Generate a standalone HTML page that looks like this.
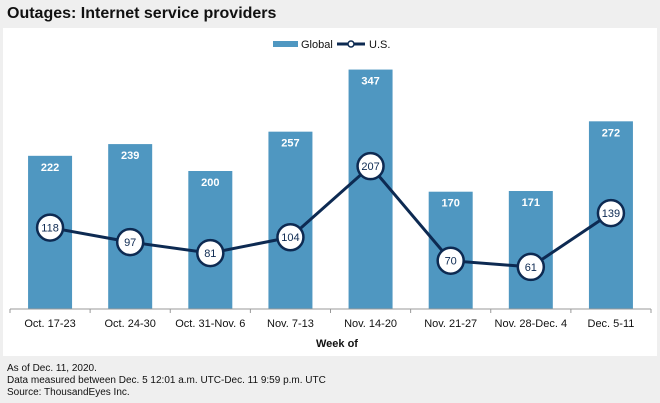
<!DOCTYPE html>
<html><head><meta charset="utf-8"><style>
body{margin:0;width:660px;height:403px;background:#efefef;font-family:"Liberation Sans",sans-serif;overflow:hidden;position:relative}
#title{position:absolute;left:7px;top:5px;font-size:16px;font-weight:bold;color:#111}
#panel{position:absolute;left:3px;top:28px;width:654px;height:328px;background:#fff}
.note{position:absolute;left:7px;font-size:10px;color:#111}
</style></head><body>
<div id="title">Outages: Internet service providers</div>
<div id="panel"></div>
<svg id="chart" width="660" height="403" style="position:absolute;left:0;top:0"></svg>
<div class="note" style="top:363px">As of Dec. 11, 2020.</div>
<div class="note" style="top:375px">Data measured between Dec. 5 12:01 a.m. UTC-Dec. 11 9:59 p.m. UTC</div>
<div class="note" style="top:387px">Source: ThousandEyes Inc.</div>
<script>
const categories=["Oct. 17-23","Oct. 24-30","Oct. 31-Nov. 6","Nov. 7-13","Nov. 14-20","Nov. 21-27","Nov. 28-Dec. 4","Dec. 5-11"];
const globalValues=[222,239,200,257,347,170,171,272];
const usValues=[118,97,81,104,207,70,61,139];
const NS="http://www.w3.org/2000/svg";
const svg=document.getElementById('chart');
const x0=10,x1=651,y0=309,k=0.69;
const bw=(x1-x0)/categories.length;
const xc=i=>x0+bw*(i+0.5);
const y=v=>y0-v*k;
function el(t,a){const e=document.createElementNS(NS,t);for(const n in a)e.setAttribute(n,a[n]);svg.appendChild(e);return e;}
globalValues.forEach((v,i)=>{
 const r=el('rect',{x:xc(i)-22,y:y(v),width:44,height:y0-y(v),fill:'#4f97c1'});
 
 
 const t=el('text',{x:xc(i),y:y(v)+15,'text-anchor':'middle','font-size':'11','font-weight':'bold',fill:'#fff'});
 t.textContent=v;
 
 
});
const ax=el('line',{x1:x0,x2:x1,y1:y0,y2:y0,stroke:'#999','stroke-width':1});


for(let i=0;i<=categories.length;i++){
 const tk=el('line',{x1:x0+bw*i,x2:x0+bw*i,y1:y0,y2:y0+4,stroke:'#999'});
 
 
}
categories.forEach((c,i)=>{
 const t=el('text',{x:xc(i),y:327,'text-anchor':'middle','font-size':'11',fill:'#111'});
 t.textContent=c;
 
 
});
const xt=el('text',{x:337,y:347,'text-anchor':'middle','font-size':'11','font-weight':'bold',fill:'#111'});
xt.textContent='Week of';


const pl=el('polyline',{points:usValues.map((v,i)=>xc(i)+','+y(v)).join(' '),fill:'none',stroke:'#0d2a52','stroke-width':3});


usValues.forEach((v,i)=>{
 const c=el('circle',{cx:xc(i),cy:y(v),r:13,fill:'#fff',stroke:'#0d2a52','stroke-width':2.5});
 
 
 const t=el('text',{x:xc(i),y:y(v)+4,'text-anchor':'middle','font-size':'11',fill:'#0d2a52'});
 t.textContent=v;
 
 
});
const ls=el('rect',{x:273,y:41,width:25,height:6,fill:'#4f97c1'});


const lt=el('text',{x:301,y:48,'font-size':'11',fill:'#111'});lt.textContent='Global';


const ll=el('line',{x1:337,x2:365,y1:44,y2:44,stroke:'#0d2a52','stroke-width':3});


const lc=el('circle',{cx:351,cy:44,r:3,fill:'#fff',stroke:'#0d2a52','stroke-width':1.5});


const lu=el('text',{x:369,y:48,'font-size':'11',fill:'#111'});lu.textContent='U.S.';


</script>
</body></html>
